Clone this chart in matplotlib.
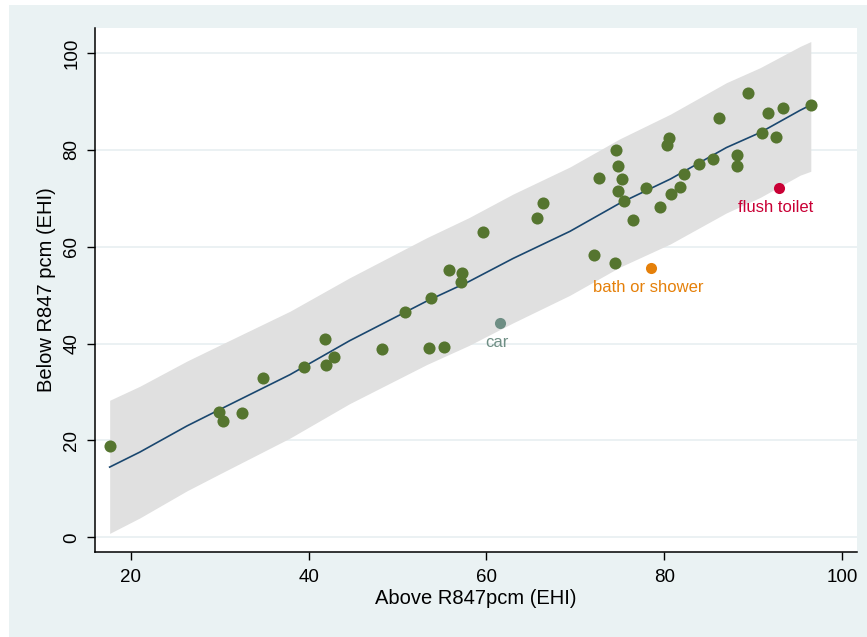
import matplotlib
matplotlib.use("Agg")
import matplotlib.pyplot as plt
from matplotlib.patches import Rectangle

plt.rcParams['font.family'] = ['Liberation Sans', 'DejaVu Sans']

# scatter points (Above vs Below R847pcm)
above = [17.6, 29.9, 30.4, 32.5, 34.8, 39.5, 41.8, 42.0, 42.9, 48.2,
         53.5, 55.2, 50.8, 53.8, 55.8, 57.1, 57.3, 59.6, 65.7, 66.4,
         72.1, 74.5, 72.7, 74.6, 74.8, 75.3, 74.8, 75.5, 76.5, 77.9,
         79.5, 80.3, 80.6, 80.8, 81.8, 82.2, 83.9, 85.5, 86.2, 88.2,
         88.2, 89.4, 91.0, 91.7, 92.6, 93.4, 96.5]
below = [18.8, 25.9, 24.1, 25.7, 32.9, 35.2, 41.0, 35.6, 37.2, 38.9,
         39.1, 39.3, 46.5, 49.4, 55.2, 52.8, 54.5, 63.1, 65.9, 69.0,
         58.3, 56.7, 74.2, 80.0, 76.6, 74.0, 71.5, 69.5, 65.6, 72.1,
         68.3, 81.1, 82.4, 70.9, 72.3, 75.1, 77.1, 78.1, 86.7, 79.0,
         76.6, 91.7, 83.6, 87.6, 82.6, 88.6, 89.3]

# labelled outliers
lab_names = ['car', 'bath or shower', 'flush toilet']
lab_x = [61.5, 78.5, 92.9]
lab_y = [44.3, 55.7, 72.2]
lab_colors = ['#6E8E84', '#E5800A', '#C90035']

# fitted line and prediction band
fit_x = [17.6, 21.0, 26.3, 30.0, 37.9, 44.6, 53.3, 58.0, 63.0, 69.4,
         75.0, 80.7, 87.0, 90.8, 95.3, 96.5]
fit_y = [14.5, 17.6, 23.0, 26.4, 33.6, 40.6, 48.8, 52.8, 57.6, 63.2,
         69.0, 74.0, 80.5, 83.6, 88.2, 89.3]
band_hi = [28.3, 31.2, 36.4, 39.7, 46.7, 53.6, 61.9, 66.0, 70.9, 76.5,
           82.3, 87.4, 93.9, 97.0, 101.4, 102.4]
band_lo = [0.8, 4.0, 9.6, 13.1, 20.5, 27.6, 35.7, 39.6, 44.3, 50.0,
           55.8, 60.6, 67.0, 70.2, 74.8, 75.6]

xticks = [20, 40, 60, 80, 100]
yticks = [0, 20, 40, 60, 80, 100]

fig = plt.figure(figsize=(8.67, 6.37), dpi=100, facecolor='#EAF2F3')
# thin white margin at left and top of the graph region
fig.patches.append(Rectangle((0, 0), 9 / 867, 1, transform=fig.transFigure,
                             facecolor='white', edgecolor='none', zorder=-1))
fig.patches.append(Rectangle((0, 1 - 5 / 637), 1, 5 / 637, transform=fig.transFigure,
                             facecolor='white', edgecolor='none', zorder=-1))

ax = fig.add_axes([95 / 867, 1 - 552 / 637, 762 / 867, 524 / 637])
ax.set_facecolor('white')

ax.fill_between(fit_x, band_lo, band_hi, color='#E0E0E0', linewidth=0, zorder=1)
ax.plot(fit_x, fit_y, color='#1A476F', linewidth=1.2, zorder=2)
ax.plot(above, below, 'o', color='#55752F', markersize=8.7, markeredgewidth=0, zorder=3)

for name, x, y, c in zip(lab_names, lab_x, lab_y, lab_colors):
    ax.plot(x, y, 'o', color=c, markersize=8, markeredgewidth=0, zorder=3)
    ax.annotate(name, (x, y), xytext=(-2, -14.5), textcoords='offset points',
                ha='center', va='center', color=c, fontsize=12, zorder=4)

ax.set_xlim(15.95, 101.7)
ax.set_ylim(-3.04, 105.2)
ax.set_xticks(xticks)
ax.set_yticks(yticks)
ax.set_yticklabels([str(t) for t in yticks], rotation=90, va='center')

ax.yaxis.grid(True, color='#E8EFF1', linewidth=1.2, zorder=0)
ax.set_axisbelow(True)

for s in ['top', 'right']:
    ax.spines[s].set_visible(False)
for s in ['left', 'bottom']:
    ax.spines[s].set_linewidth(1.1)
    ax.spines[s].set_color('black')

ax.tick_params(axis='both', direction='out', length=5.5, width=1.0, labelsize=13.5)
ax.tick_params(axis='x', pad=7)
ax.tick_params(axis='y', pad=5)

ax.set_xlabel('Above R847pcm (EHI)', fontsize=14.5, labelpad=2)
ax.set_ylabel('Below R847 pcm (EHI)', fontsize=14.5, labelpad=5)

fig.savefig('out.png', dpi=100, facecolor=fig.get_facecolor())
